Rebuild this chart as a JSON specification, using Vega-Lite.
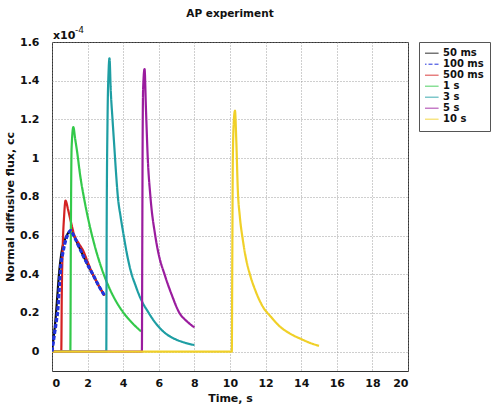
{
  "$schema": "https://vega.github.io/schema/vega-lite/v6.json",
  "autosize": {"type": "none"},
  "padding": {"left": 52, "top": 42, "right": 88, "bottom": 39},
  "width": 356,
  "height": 329,
  "background": "white",
  "title": {"text": "AP experiment", "font": "DejaVu Sans", "fontSize": 10.5, "fontWeight": "bold", "color": "#111", "offset": 7, "anchor": "middle"},
  "config": {
    "view": {"stroke": "#333", "strokeWidth": 1},
    "axis": {"labelFont": "DejaVu Sans", "labelFontWeight": "bold", "labelFontSize": 11, "labelColor": "#111", "labelOverlap": false, "titleFont": "DejaVu Sans", "titleFontWeight": "bold", "titleFontSize": 11, "titleColor": "#111", "domain": false, "ticks": false, "grid": true, "gridColor": "#888", "gridDash": [1, 2], "gridOpacity": 0.8},
    "legend": {"labelFont": "DejaVu Sans", "labelFontWeight": "bold", "labelFontSize": 10, "labelColor": "#111"}
  },
  "data": {"values": [
    {"t": 0, "v": 0, "s": "50 ms"}, {"t": 0.1, "v": 0.08, "s": "50 ms"}, {"t": 0.2, "v": 0.17, "s": "50 ms"}, {"t": 0.3, "v": 0.29, "s": "50 ms"}, {"t": 0.4, "v": 0.41, "s": "50 ms"}, {"t": 0.5, "v": 0.49, "s": "50 ms"}, {"t": 0.6, "v": 0.545, "s": "50 ms"}, {"t": 0.75, "v": 0.585, "s": "50 ms"}, {"t": 0.9, "v": 0.612, "s": "50 ms"}, {"t": 1.05, "v": 0.625, "s": "50 ms"}, {"t": 1.22, "v": 0.6, "s": "50 ms"}, {"t": 1.5, "v": 0.545, "s": "50 ms"}, {"t": 1.76, "v": 0.494, "s": "50 ms"}, {"t": 2.0, "v": 0.45, "s": "50 ms"}, {"t": 2.29, "v": 0.4, "s": "50 ms"}, {"t": 2.6, "v": 0.345, "s": "50 ms"}, {"t": 2.95, "v": 0.29, "s": "50 ms"},
    {"t": 0, "v": 0, "s": "500 ms"}, {"t": 0.52, "v": 0, "s": "500 ms"}, {"t": 0.55, "v": 0.3, "s": "500 ms"}, {"t": 0.6, "v": 0.53, "s": "500 ms"}, {"t": 0.68, "v": 0.7, "s": "500 ms"}, {"t": 0.76, "v": 0.78, "s": "500 ms"}, {"t": 0.9, "v": 0.735, "s": "500 ms"}, {"t": 1.05, "v": 0.675, "s": "500 ms"}, {"t": 1.26, "v": 0.6, "s": "500 ms"}, {"t": 1.5, "v": 0.56, "s": "500 ms"}, {"t": 1.76, "v": 0.52, "s": "500 ms"}, {"t": 2.0, "v": 0.465, "s": "500 ms"}, {"t": 2.29, "v": 0.4, "s": "500 ms"}, {"t": 2.6, "v": 0.345, "s": "500 ms"}, {"t": 2.95, "v": 0.29, "s": "500 ms"},
    {"t": 0, "v": 0, "s": "1 s"}, {"t": 1.03, "v": 0, "s": "1 s"}, {"t": 1.06, "v": 0.6, "s": "1 s"}, {"t": 1.1, "v": 1.05, "s": "1 s"}, {"t": 1.2, "v": 1.16, "s": "1 s"}, {"t": 1.3, "v": 1.1, "s": "1 s"}, {"t": 1.4, "v": 1.04, "s": "1 s"}, {"t": 1.6, "v": 0.9, "s": "1 s"}, {"t": 1.8, "v": 0.793, "s": "1 s"}, {"t": 2.0, "v": 0.7, "s": "1 s"}, {"t": 2.4, "v": 0.547, "s": "1 s"}, {"t": 2.8, "v": 0.427, "s": "1 s"}, {"t": 3.2, "v": 0.333, "s": "1 s"}, {"t": 3.6, "v": 0.26, "s": "1 s"}, {"t": 4.0, "v": 0.203, "s": "1 s"}, {"t": 4.5, "v": 0.149, "s": "1 s"}, {"t": 5.0, "v": 0.105, "s": "1 s"},
    {"t": 0, "v": 0, "s": "3 s"}, {"t": 3.05, "v": 0, "s": "3 s"}, {"t": 3.07, "v": 0.6, "s": "3 s"}, {"t": 3.12, "v": 1.2, "s": "3 s"}, {"t": 3.18, "v": 1.45, "s": "3 s"}, {"t": 3.23, "v": 1.515, "s": "3 s"}, {"t": 3.3, "v": 1.35, "s": "3 s"}, {"t": 3.4, "v": 1.2, "s": "3 s"}, {"t": 3.5, "v": 1.06, "s": "3 s"}, {"t": 3.6, "v": 0.92, "s": "3 s"}, {"t": 3.7, "v": 0.8, "s": "3 s"}, {"t": 3.85, "v": 0.7, "s": "3 s"}, {"t": 4.0, "v": 0.615, "s": "3 s"}, {"t": 4.2, "v": 0.51, "s": "3 s"}, {"t": 4.4, "v": 0.425, "s": "3 s"}, {"t": 4.7, "v": 0.34, "s": "3 s"}, {"t": 5.0, "v": 0.27, "s": "3 s"}, {"t": 5.4, "v": 0.205, "s": "3 s"}, {"t": 5.8, "v": 0.15, "s": "3 s"}, {"t": 6.3, "v": 0.1, "s": "3 s"}, {"t": 6.8, "v": 0.07, "s": "3 s"}, {"t": 7.4, "v": 0.048, "s": "3 s"}, {"t": 8.0, "v": 0.034, "s": "3 s"},
    {"t": 0, "v": 0, "s": "5 s"}, {"t": 5.05, "v": 0, "s": "5 s"}, {"t": 5.07, "v": 0.5, "s": "5 s"}, {"t": 5.09, "v": 1.05, "s": "5 s"}, {"t": 5.12, "v": 1.36, "s": "5 s"}, {"t": 5.2, "v": 1.46, "s": "5 s"}, {"t": 5.28, "v": 1.25, "s": "5 s"}, {"t": 5.38, "v": 1.0, "s": "5 s"}, {"t": 5.53, "v": 0.8, "s": "5 s"}, {"t": 5.8, "v": 0.6, "s": "5 s"}, {"t": 6.0, "v": 0.5, "s": "5 s"}, {"t": 6.32, "v": 0.4, "s": "5 s"}, {"t": 6.7, "v": 0.3, "s": "5 s"}, {"t": 7.16, "v": 0.2, "s": "5 s"}, {"t": 7.6, "v": 0.155, "s": "5 s"}, {"t": 8.0, "v": 0.125, "s": "5 s"},
    {"t": 0, "v": 0, "s": "100 ms"}, {"t": 0.12, "v": 0.08, "s": "100 ms"}, {"t": 0.25, "v": 0.16, "s": "100 ms"}, {"t": 0.33, "v": 0.22, "s": "100 ms"}, {"t": 0.42, "v": 0.35, "s": "100 ms"}, {"t": 0.5, "v": 0.45, "s": "100 ms"}, {"t": 0.61, "v": 0.51, "s": "100 ms"}, {"t": 0.8, "v": 0.585, "s": "100 ms"}, {"t": 0.95, "v": 0.615, "s": "100 ms"}, {"t": 1.04, "v": 0.625, "s": "100 ms"}, {"t": 1.22, "v": 0.6, "s": "100 ms"}, {"t": 1.5, "v": 0.545, "s": "100 ms"}, {"t": 1.76, "v": 0.494, "s": "100 ms"}, {"t": 2.0, "v": 0.45, "s": "100 ms"}, {"t": 2.29, "v": 0.4, "s": "100 ms"}, {"t": 2.6, "v": 0.345, "s": "100 ms"}, {"t": 2.95, "v": 0.29, "s": "100 ms"},
    {"t": 0, "v": 0, "s": "10 s"}, {"t": 10.1, "v": 0, "s": "10 s"}, {"t": 10.13, "v": 0.5, "s": "10 s"}, {"t": 10.16, "v": 1.0, "s": "10 s"}, {"t": 10.22, "v": 1.2, "s": "10 s"}, {"t": 10.28, "v": 1.245, "s": "10 s"}, {"t": 10.35, "v": 1.1, "s": "10 s"}, {"t": 10.44, "v": 0.834, "s": "10 s"}, {"t": 10.55, "v": 0.7, "s": "10 s"}, {"t": 10.72, "v": 0.578, "s": "10 s"}, {"t": 10.9, "v": 0.48, "s": "10 s"}, {"t": 11.1, "v": 0.405, "s": "10 s"}, {"t": 11.45, "v": 0.31, "s": "10 s"}, {"t": 11.84, "v": 0.233, "s": "10 s"}, {"t": 12.3, "v": 0.18, "s": "10 s"}, {"t": 12.8, "v": 0.13, "s": "10 s"}, {"t": 13.34, "v": 0.095, "s": "10 s"}, {"t": 14.0, "v": 0.065, "s": "10 s"}, {"t": 14.5, "v": 0.045, "s": "10 s"}, {"t": 15.0, "v": 0.03, "s": "10 s"}
  ]},
  "encoding": {
    "x": {"field": "t", "type": "quantitative", "scale": {"domain": [0, 20], "nice": false, "zero": false}, "axis": {"values": [0, 2, 4, 6, 8, 10, 12, 14, 16, 18, 20], "tickCount": 30, "format": "~g", "title": "Time, s", "labelPadding": 6, "titlePadding": 4, "labelOverlap": false, "labelBound": false}},
    "y": {"field": "v", "type": "quantitative", "scale": {"domain": [-0.1, 1.6], "nice": false, "zero": false}, "axis": {"values": [0, 0.2, 0.4, 0.6, 0.8, 1, 1.2, 1.4, 1.6], "tickCount": 30, "format": "~g", "title": "Normal diffusive flux, cc", "labelPadding": 13, "titlePadding": 4, "labelOverlap": false}}
  },
  "layer": [
    {
      "mark": {"type": "line", "strokeJoin": "round", "interpolate": "monotone", "strokeWidth": 2.2, "clip": true},
      "encoding": {
        "color": {"field": "s", "type": "nominal", "title": null, "scale": {"domain": ["50 ms", "100 ms", "500 ms", "1 s", "3 s", "5 s", "10 s"], "range": ["#111111", "#2233dd", "#d42222", "#33c94a", "#1e9ea3", "#9a1c9e", "#f0d028"]},
          "legend": {"orient": "none", "legendX": 367, "legendY": 0, "strokeColor": "#555", "fillColor": "white", "padding": 6, "symbolType": "M-1.6,0H1.6", "symbolStrokeWidth": 1, "symbolSize": 100, "rowPadding": 0, "clipHeight": 10.4, "labelOffset": 7,
            "encode": {"symbols": {"update": {"strokeWidth": {"value": 1}, "strokeDash": {"signal": "datum.value === '100 ms' ? [4, 2] : [1, 0]"}}}}}},
        "strokeDash": {"field": "s", "type": "nominal", "legend": null, "scale": {"domain": ["50 ms", "100 ms", "500 ms", "1 s", "3 s", "5 s", "10 s"], "range": [[1, 0], [4, 2], [1, 0], [1, 0], [1, 0], [1, 0], [1, 0]]}}
      }
    },
    {
      "transform": [{"filter": "datum.s === '100 ms'"}],
      "mark": {"type": "line", "strokeJoin": "round", "interpolate": "monotone", "strokeWidth": 3.2, "strokeDash": [4, 2], "color": "#2233dd", "clip": true}
    },
    {
      "data": {"values": [{"t": 0, "v": 1.6}]},
      "mark": {"type": "text", "text": "x10", "align": "left", "baseline": "bottom", "dx": 1, "dy": -1, "font": "DejaVu Sans", "fontSize": 11, "fontWeight": "bold", "color": "#111"}
    },
    {
      "data": {"values": [{"t": 0, "v": 1.6}]},
      "mark": {"type": "text", "text": "-4", "align": "left", "baseline": "bottom", "dx": 23, "dy": -7, "font": "DejaVu Sans", "fontSize": 9, "color": "#111"}
    }
  ]
}
